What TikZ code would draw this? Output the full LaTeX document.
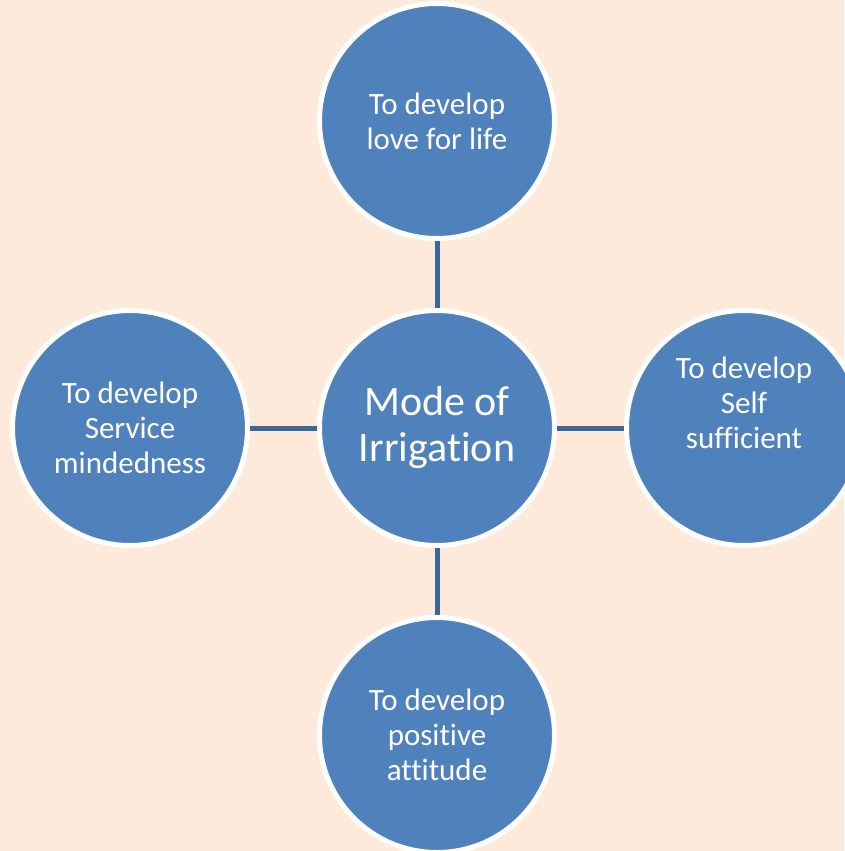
\documentclass[tikz,border=0pt]{standalone}
\usepackage{fontspec}
\setmainfont{Carlito}[Ligatures=NoCommon]
\usetikzlibrary{positioning}
\definecolor{bgpeach}{HTML}{FDEADB}
\definecolor{circblue}{HTML}{4F81BD}
\definecolor{linkblue}{HTML}{3E6697}

\begin{document}
\begin{tikzpicture}[-,x=1pt,y=1pt,node distance=67pt,semithick]
	\tikzstyle{bubble}=[circle, draw=white, fill=circblue, line width=5pt, minimum size=235pt, inner sep=0pt, text=white, align=center, font=\fontsize{31}{35}\selectfont]
	\tikzstyle{every edge}=[draw=linkblue, line width=5pt]
	
	\fill[bgpeach] (0,0) rectangle (844,-851);
	\useasboundingbox (0,0) rectangle (844,-851);
	
	\node[bubble, font=\fontsize{42}{46}\selectfont] (mode) at (437,-428) {Mode of\\Irrigation};
	\node[bubble] (love) [above=of mode] {To develop\\love for life};
	\node[bubble] (service) [left=of mode] {To develop\\Service\\mindedness};
	\node[bubble, label={[text=white, align=center, font=\fontsize{31}{35}\selectfont, yshift=25pt]center:{To develop\\Self\\sufficient}}] (self) [right=of mode] {};
	\node[bubble] (attitude) [below=of mode] {To develop\\positive\\attitude};
	
	\path (love) edge (mode);
	\path (service) edge (mode);
	\path (self) edge (mode);
	\path (attitude) edge (mode);
	
\end{tikzpicture}
\end{document}
